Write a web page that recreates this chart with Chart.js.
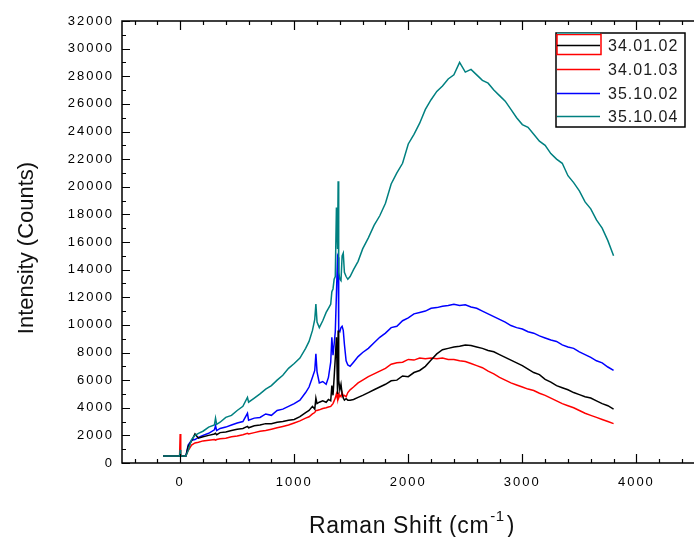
<!DOCTYPE html>
<html>
<head>
<meta charset="utf-8">
<script src="https://cdn.jsdelivr.net/npm/chart.js@4"></script>
<style>
  html, body { margin: 0; padding: 0; background: #fff; }
  canvas { display: block; }
</style>
</head>
<body>
<canvas id="ramanChart" width="694" height="537"></canvas>
<script>
// Raman shift (cm-1) shared by all spectra
const shift = [
  -150, -100, -50, -5, 0, 5, 50, 70, 100, 130,
  160, 200, 250, 300, 310, 320, 350, 400, 450, 500,
  550, 590, 600, 650, 700, 750, 800, 850, 900, 950,
  1000, 1050, 1100, 1130, 1160, 1180, 1190, 1200, 1220, 1250,
  1280, 1300, 1320, 1330, 1340, 1350, 1360, 1370, 1380, 1385,
  1390, 1400, 1410, 1420, 1430, 1440, 1455, 1470, 1490, 1520,
  1560, 1600, 1650, 1700, 1750, 1800, 1850, 1900, 1950, 2000,
  2050, 2100, 2150, 2200, 2250, 2300, 2350, 2400, 2450, 2500,
  2550, 2600, 2650, 2700, 2750, 2800, 2850, 2900, 2950, 3000,
  3050, 3100, 3150, 3200, 3250, 3300, 3350, 3400, 3450, 3500,
  3550, 3600, 3650, 3700, 3750, 3800
];

const s340102 = [
  500, 500, 500, 500, 500, 500, 500, 1200, 1600, 2100,
  1800, 1900, 2000, 2100, 2150, 2050, 2200, 2250, 2350, 2450,
  2500, 2650, 2550, 2700, 2750, 2850, 2850, 2950, 3000, 3100,
  3150, 3350, 3650, 3800, 4100, 3900, 4700, 4300, 4400, 4500,
  4400, 4600, 4500, 5600, 4900, 6200, 7600, 9100, 5000, 9600,
  6000, 5300, 5700, 5000, 4700, 4550, 4650, 4550, 4550, 4600,
  4750, 4900, 5100, 5300, 5500, 5700, 5950, 6000, 6300, 6250,
  6550, 6700, 7000, 7450, 7900, 8200, 8300, 8400, 8450, 8550,
  8500, 8400, 8300, 8150, 8050, 7850, 7650, 7450, 7250, 7050,
  6800, 6550, 6400, 6050, 5850, 5600, 5450, 5300, 5100, 4950,
  4800, 4700, 4500, 4300, 4150, 3900
];

const s340103 = [
  500, 500, 500, 500, 2100, 500, 500, 900, 1300, 1450,
  1500, 1600, 1650, 1700, 1650, 1700, 1750, 1800, 1900, 1950,
  2050, 2150, 2100, 2200, 2300, 2350, 2450, 2550, 2650, 2750,
  2900, 3050, 3250, 3350, 3550, 3650, 3800, 3800, 3850, 3950,
  4000, 4050, 4100, 4200, 4300, 4500, 4700, 5000, 4600, 5100,
  4700, 4900, 4800, 5100, 4850, 4900, 4800, 5100, 5300, 5500,
  5800, 6000, 6250, 6450, 6650, 6850, 7150, 7250, 7300, 7500,
  7450, 7600, 7550, 7600, 7550, 7600, 7500, 7500, 7400, 7350,
  7200, 7050, 6900, 6650, 6450, 6200, 6000, 5800, 5650, 5500,
  5350, 5250, 5050, 4900, 4700, 4500, 4300, 4150, 4000, 3800,
  3600, 3450, 3300, 3150, 3000, 2850
];

const s351002 = [
  500, 500, 500, 500, 500, 500, 500, 1300, 1650, 1700,
  1850, 2000, 2150, 2400, 2700, 2350, 2500, 2600, 2750, 2900,
  3000, 3600, 3100, 3250, 3300, 3550, 3450, 3800, 3900, 4100,
  4300, 4550, 5100, 5500, 6200, 6700, 7900, 6600, 5800, 5900,
  5700, 6200, 7300, 9100, 7800, 8600, 9500, 12200, 15000, 14900,
  9600, 9500, 9800, 9900, 9600, 8600, 7400, 7100, 7000, 7300,
  7700, 8000, 8300, 8700, 9100, 9400, 9800, 9900, 10300, 10500,
  10800, 10900, 11000, 11200, 11250, 11350, 11400, 11500, 11400, 11450,
  11300, 11200, 11000, 10800, 10600, 10400, 10200, 9950, 9800, 9700,
  9500, 9400, 9200, 9050, 8900, 8800, 8550, 8400, 8300, 8050,
  7850, 7650, 7400, 7250, 6950, 6700
];

const s351004 = [
  500, 500, 500, 500, 950, 500, 500, 900, 1700, 2000,
  2150, 2300, 2600, 2750, 3250, 2800, 2950, 3300, 3450, 3800,
  4100, 4750, 4400, 4700, 5000, 5350, 5600, 6000, 6350, 6850,
  7200, 7600, 8300, 8800, 9600, 10400, 11500, 10200, 9800, 10300,
  10900, 11200, 11500, 12400, 12600, 13300, 13500, 18500, 15500, 20400,
  13800, 13300, 13200, 15000, 15200, 13800, 13500, 13300, 13500, 14000,
  14600, 15500, 16300, 17200, 17900, 18800, 20200, 21000, 21700, 23100,
  23800, 24600, 25600, 26300, 26900, 27300, 27800, 28100, 29000, 28300,
  28500, 28100, 27700, 27500, 27000, 26600, 26200, 25600, 25000, 24500,
  24300, 23800, 23300, 23000, 22400, 22000, 21700, 20800, 20300, 19700,
  18900, 18400, 17600, 17000, 16100, 15000
];

const sampleNames = ['34.01.02', '34.01.03', '35.10.02', '35.10.04'];
const sampleSeries = [s340102, s340103, s351002, s351004];
const lineColors = ['#000000', '#ff0000', '#0000ff', '#008080'];

const datasets = sampleSeries.map((vals, i) => ({
  label: sampleNames[i],
  data: shift.map((x, j) => ({ x: x, y: vals[j] })),
  borderColor: lineColors[i],
  backgroundColor: lineColors[i],
  borderWidth: 1.5,
  pointRadius: 0,
  tension: 0,
  order: i === 3 ? -1 : 0
}));

// axis frame with inward ticks, titles and the boxed legend
const framePlugin = {
  id: 'framePlugin',
  beforeDraw(chart) {
    chart.ctx.letterSpacing = '2px';
  },
  afterDraw(chart) {
    const { ctx, chartArea: a, scales } = chart;
    const xs = scales.x, ys = scales.y;
    ctx.save();
    ctx.letterSpacing = '0px';
    ctx.strokeStyle = '#000';
    ctx.lineWidth = 1.5;
    ctx.beginPath();
    ctx.moveTo(chart.width, a.top);
    ctx.lineTo(a.left, a.top);
    ctx.lineTo(a.left, a.bottom);
    ctx.lineTo(chart.width, a.bottom);
    ctx.stroke();

    ctx.lineWidth = 1.2;
    ctx.beginPath();
    xs.ticks.forEach(t => {
      const px = Math.round(xs.getPixelForValue(t.value)) + 0.5;
      const len = t.value % 1000 === 0 ? 9 : 4;
      ctx.moveTo(px, a.bottom);
      ctx.lineTo(px, a.bottom - len);
      ctx.moveTo(px, a.top);
      ctx.lineTo(px, a.top + len);
    });
    ys.ticks.forEach(t => {
      const py = Math.round(ys.getPixelForValue(t.value)) + 0.5;
      const len = t.value % 2000 === 0 ? 8 : 4;
      ctx.moveTo(a.left, py);
      ctx.lineTo(a.left + len, py);
    });
    ctx.stroke();

    // axis titles
    ctx.fillStyle = '#111';
    ctx.textBaseline = 'alphabetic';
    ctx.font = '23px Arial, "Liberation Sans", sans-serif';
    ctx.letterSpacing = '0.6px';
    const main = 'Raman Shift (cm';
    const sup = '-1';
    const close = ')';
    const wMain = ctx.measureText(main).width;
    ctx.font = '15px Arial, "Liberation Sans", sans-serif';
    const wSup = ctx.measureText(sup).width;
    ctx.font = '23px Arial, "Liberation Sans", sans-serif';
    const wClose = ctx.measureText(close).width;
    let tx = 412 - (wMain + wSup + 3 + wClose) / 2;
    ctx.textAlign = 'left';
    ctx.fillText(main, tx, 533);
    tx += wMain + 1;
    ctx.font = '15px Arial, "Liberation Sans", sans-serif';
    ctx.fillText(sup, tx, 521);
    tx += wSup + 2;
    ctx.font = '23px Arial, "Liberation Sans", sans-serif';
    ctx.fillText(close, tx, 533);

    ctx.save();
    ctx.translate(33, 248);
    ctx.rotate(-Math.PI / 2);
    ctx.font = '22px Arial, "Liberation Sans", sans-serif';
    ctx.letterSpacing = '0px';
    ctx.textAlign = 'center';
    ctx.fillText('Intensity (Counts)', 0, 0);
    ctx.restore();

    // legend box
    const lx = 556, ly = 33, lw = 129, lh = 94;
    ctx.fillStyle = '#fff';
    ctx.fillRect(lx, ly, lw, lh);
    ctx.lineWidth = 1.5;
    ctx.strokeStyle = '#000';
    ctx.strokeRect(lx, ly, lw, lh);
    ctx.font = '16px Arial, "Liberation Sans", sans-serif';
    ctx.letterSpacing = '1px';
    ctx.textAlign = 'left';
    ctx.textBaseline = 'middle';
    chart.data.datasets.forEach((ds, i) => {
      const yy = Math.round(ly + 12 + i * 23.8) + 0.5;
      if (i === 0) {
        ctx.lineWidth = 1.5;
        ctx.strokeStyle = '#00e0e0';
        ctx.beginPath();
        ctx.moveTo(lx + 1, ly + 0.5);
        ctx.lineTo(lx + 44, ly + 0.5);
        ctx.stroke();
        ctx.strokeStyle = '#ff0000';
        ctx.strokeRect(lx + 1, ly + 1.5, 44, 20);
      }
      ctx.strokeStyle = ds.borderColor;
      ctx.lineWidth = 1.5;
      ctx.beginPath();
      ctx.moveTo(lx + 1, yy);
      ctx.lineTo(lx + 44, yy);
      ctx.stroke();
      ctx.fillStyle = '#1a1a1a';
      ctx.fillText(ds.label, lx + 52, yy + 1);
    });
    ctx.restore();
  }
};

new Chart(document.getElementById('ramanChart').getContext('2d'), {
  type: 'line',
  data: { datasets: datasets },
  options: {
    responsive: false,
    animation: false,
    events: [],
    layout: { padding: { top: 21, left: 0, right: 0, bottom: 0 } },
    plugins: {
      legend: { display: false },
      tooltip: { enabled: false }
    },
    scales: {
      x: {
        type: 'linear',
        min: -510,
        max: 4430,
        grid: { display: false, drawTicks: false },
        border: { display: false },
        afterFit(scale) { scale.height = 74; },
        ticks: {
          stepSize: 200,
          includeBounds: false,
          autoSkip: false,
          maxRotation: 0,
          padding: 12,
          color: '#000',
          font: { family: 'Arial, "Liberation Sans", sans-serif', size: 13 },
          callback: v => (v % 1000 === 0 ? String(v) : '')
        }
      },
      y: {
        min: 0,
        max: 32000,
        grid: { display: false, drawTicks: false },
        border: { display: false },
        afterFit(scale) { scale.width = 122; },
        ticks: {
          stepSize: 1000,
          autoSkip: false,
          padding: 8,
          color: '#000',
          font: { family: 'Arial, "Liberation Sans", sans-serif', size: 13 },
          callback: v => (v % 2000 === 0 ? String(v) : '')
        }
      }
    }
  },
  plugins: [framePlugin]
});
</script>
</body>
</html>
